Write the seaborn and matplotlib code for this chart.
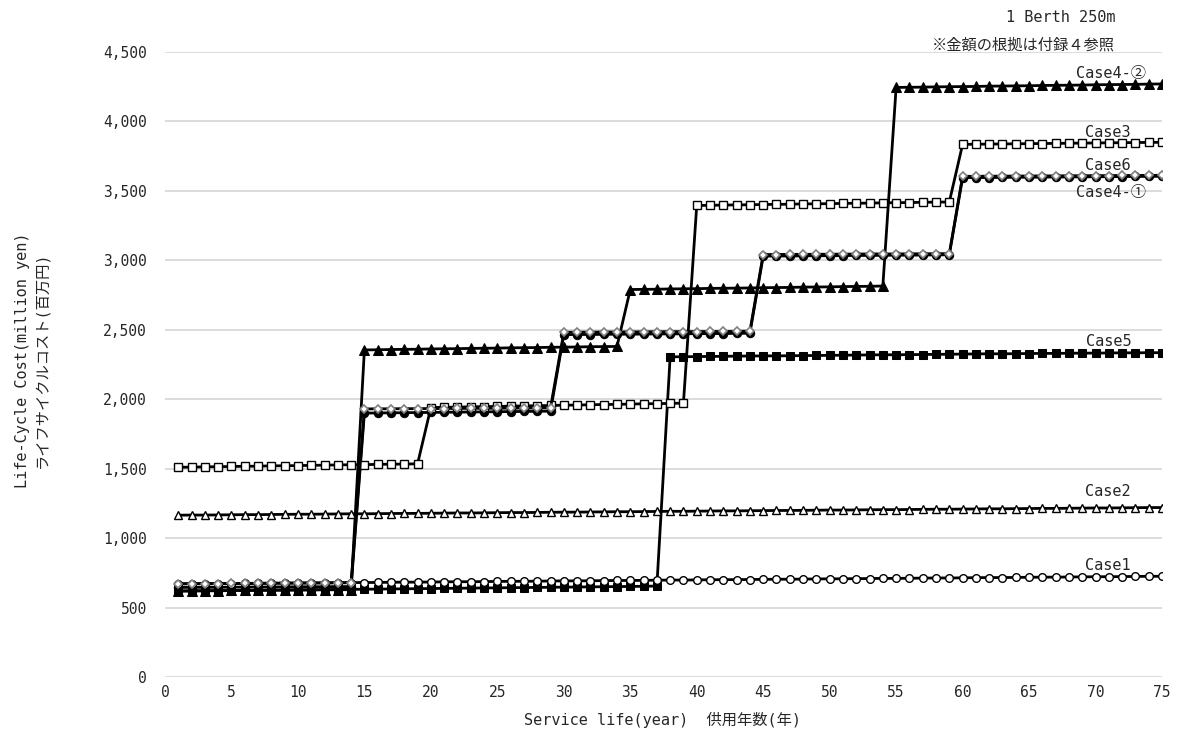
import numpy as np
import pandas as pd
import matplotlib
matplotlib.use("Agg")
import matplotlib.pyplot as plt
import seaborn as sns

# ── data (million yen) ──
years = list(range(1, 76))

case1 = [670, 671, 671, 672, 673, 674, 674, 675, 676, 677, 677, 678, 679, 680, 680,
         681, 682, 683, 683, 684, 685, 686, 686, 687, 688, 689, 689, 690, 691, 692,
         692, 693, 694, 695, 695, 696, 697, 698, 698, 699, 700, 701, 701, 702, 703,
         704, 704, 705, 706, 707, 707, 708, 709, 710, 710, 711, 712, 713, 713, 714,
         715, 716, 716, 717, 718, 719, 719, 720, 721, 722, 722, 723, 724, 725, 725]

case2 = [1165, 1166, 1166, 1167, 1168, 1169, 1169, 1170, 1171, 1172, 1172, 1173, 1174, 1175, 1175,
         1176, 1177, 1178, 1178, 1179, 1180, 1181, 1181, 1182, 1183, 1184, 1184, 1185, 1186, 1187,
         1187, 1188, 1189, 1190, 1190, 1191, 1192, 1193, 1193, 1194, 1195, 1196, 1196, 1197, 1198,
         1199, 1199, 1200, 1201, 1202, 1202, 1203, 1204, 1205, 1205, 1206, 1207, 1208, 1208, 1209,
         1210, 1211, 1211, 1212, 1213, 1214, 1214, 1215, 1216, 1217, 1217, 1218, 1219, 1220, 1220]

case3 = [1510, 1511, 1513, 1514, 1516, 1517, 1518, 1520, 1521, 1522, 1524, 1525, 1527, 1528, 1529,
         1531, 1532, 1533, 1535, 1940, 1942, 1943, 1945, 1947, 1948, 1950, 1952, 1953, 1955, 1957,
         1958, 1960, 1962, 1963, 1965, 1967, 1968, 1970, 1972, 3395, 3396, 3398, 3399, 3400, 3402,
         3403, 3404, 3406, 3407, 3408, 3410, 3411, 3412, 3414, 3415, 3416, 3418, 3419, 3420, 3835,
         3836, 3837, 3838, 3839, 3840, 3841, 3842, 3843, 3844, 3845, 3846, 3847, 3848, 3849, 3850]

case4_2 = [620, 621, 622, 622, 623, 624, 624, 625, 626, 626, 627, 628, 628, 629, 2355,
           2356, 2358, 2359, 2360, 2362, 2363, 2364, 2366, 2367, 2368, 2370, 2371, 2372, 2374, 2375,
           2376, 2378, 2379, 2380, 2790, 2791, 2792, 2794, 2795, 2796, 2798, 2799, 2800, 2801, 2803,
           2804, 2805, 2807, 2808, 2809, 2811, 2812, 2813, 2815, 4245, 4246, 4247, 4249, 4250, 4251,
           4252, 4254, 4255, 4256, 4257, 4259, 4260, 4261, 4262, 4264, 4265, 4266, 4267, 4269, 4270]

case4_1 = [645, 645, 646, 646, 647, 647, 648, 648, 649, 649, 650, 650, 651, 651, 1900,
           1901, 1902, 1903, 1904, 1905, 1906, 1907, 1908, 1909, 1910, 1911, 1912, 1913, 1914, 2465,
           2466, 2466, 2467, 2468, 2468, 2469, 2470, 2470, 2471, 2472, 2472, 2473, 2474, 2475, 3030,
           3031, 3031, 3032, 3033, 3033, 3034, 3035, 3035, 3036, 3037, 3037, 3038, 3039, 3040, 3595,
           3596, 3596, 3597, 3598, 3598, 3599, 3600, 3600, 3601, 3602, 3602, 3603, 3604, 3604, 3605]

case5 = [618, 619, 620, 621, 622, 623, 624, 625, 626, 627, 628, 629, 630, 631, 632,
         633, 634, 635, 636, 637, 638, 639, 640, 641, 642, 643, 644, 645, 646, 647,
         648, 649, 650, 651, 652, 653, 655, 2305, 2306, 2307, 2308, 2309, 2310, 2311, 2312,
         2312, 2313, 2314, 2315, 2316, 2317, 2318, 2319, 2320, 2320, 2321, 2322, 2323, 2324, 2325,
         2326, 2327, 2327, 2328, 2329, 2330, 2330, 2331, 2332, 2332, 2333, 2334, 2334, 2335, 2335]

case6 = [672, 672, 673, 673, 674, 674, 675, 675, 676, 676, 677, 677, 678, 678, 1930,
         1931, 1931, 1932, 1932, 1933, 1933, 1934, 1934, 1935, 1935, 1936, 1936, 1937, 1938, 2482,
         2483, 2483, 2484, 2484, 2485, 2485, 2486, 2486, 2487, 2487, 2488, 2488, 2489, 2490, 3042,
         3042, 3043, 3043, 3044, 3044, 3045, 3045, 3046, 3046, 3046, 3047, 3047, 3048, 3048, 3605,
         3605, 3606, 3606, 3607, 3607, 3608, 3608, 3609, 3609, 3610, 3610, 3611, 3611, 3612, 3612]

# drawing order (bottom to top)
series_names = ["Case4-②", "Case5", "Case4-①", "Case1", "Case2", "Case3", "Case6"]
series_vals = [case4_2, case5, case4_1, case1, case2, case3, case6]

# label anchor points (year, value) for the right-hand text labels
label_x = [71.2, 71.0, 71.2, 70.9, 70.9, 70.9, 70.9]
label_y = [4345, 2415, 3492, 806, 1335, 3917, 3686]

# ── style ──
sns.set_theme(style="white")
plt.rcParams["font.family"] = ["DejaVu Sans Mono", "Noto Sans CJK JP", "DejaVu Sans"]

styles = {
    "Case5":   dict(marker="s", markerfacecolor="black", markeredgecolor="black", markersize=6),
    "Case4-②": dict(marker="^", markerfacecolor="black", markeredgecolor="black", markersize=6.5),
    "Case4-①": dict(marker="o", markerfacecolor="black", markeredgecolor="black", markersize=6),
    "Case1":   dict(marker="o", markerfacecolor="white", markeredgecolor="black", markersize=5.5,
                    markeredgewidth=1),
    "Case2":   dict(marker="^", markerfacecolor="white", markeredgecolor="black", markersize=6,
                    markeredgewidth=1),
    "Case3":   dict(marker="s", markerfacecolor="white", markeredgecolor="black", markersize=5.5,
                    markeredgewidth=1),
    "Case6":   dict(marker="D", markerfacecolor="white", markeredgecolor="#808080", markersize=4.5,
                    markeredgewidth=1.2),
}

fig = plt.figure(figsize=(11.77, 7.35), dpi=100)
ax = fig.add_axes([165 / 1177, 58 / 735, (1162 - 165) / 1177, (677 - 52) / 735])

for name, vals in zip(series_names, series_vals):
    sns.lineplot(x=years, y=vals, ax=ax, color="black", linewidth=2.0, **styles[name])

for name, lx, ly in zip(series_names, label_x, label_y):
    ax.text(lx, ly, name, fontsize=11, ha="center", va="center")

ax.set_xlim(0, 75)
ax.set_ylim(0, 4500)
ax.set_xticks(range(0, 76, 5))
ax.set_yticks(range(0, 4501, 500))
ax.set_yticklabels([f"{v:,}" for v in range(0, 4501, 500)])
ax.tick_params(axis="both", labelsize=10.5, length=0)
ax.tick_params(axis="y", pad=13)
ax.tick_params(axis="x", pad=6)
ax.yaxis.grid(True, color="#d9d9d9", linewidth=1.3)
ax.xaxis.grid(False)
for sp in ax.spines.values():
    sp.set_visible(False)
ax.set_axisbelow(True)

fig.text(32 / 1177, 1 - 360 / 735,
         "Life-Cycle Cost(million yen)\nライフサイクルコスト(百万円)",
         rotation=90, ha="center", va="center", fontsize=11, linespacing=1.4)
fig.text(663 / 1177, 1 - 720 / 735, "Service life(year)  供用年数(年)",
         ha="center", va="center", fontsize=11)

fig.text(1115 / 1177, 1 - 17 / 735, "1 Berth 250m", ha="right", va="center", fontsize=11)
fig.text(1115 / 1177, 1 - 45 / 735, "※金額の根拠は付録４参照", ha="right", va="center", fontsize=11)

fig.savefig("out.png", dpi=100)
plt.close(fig)
